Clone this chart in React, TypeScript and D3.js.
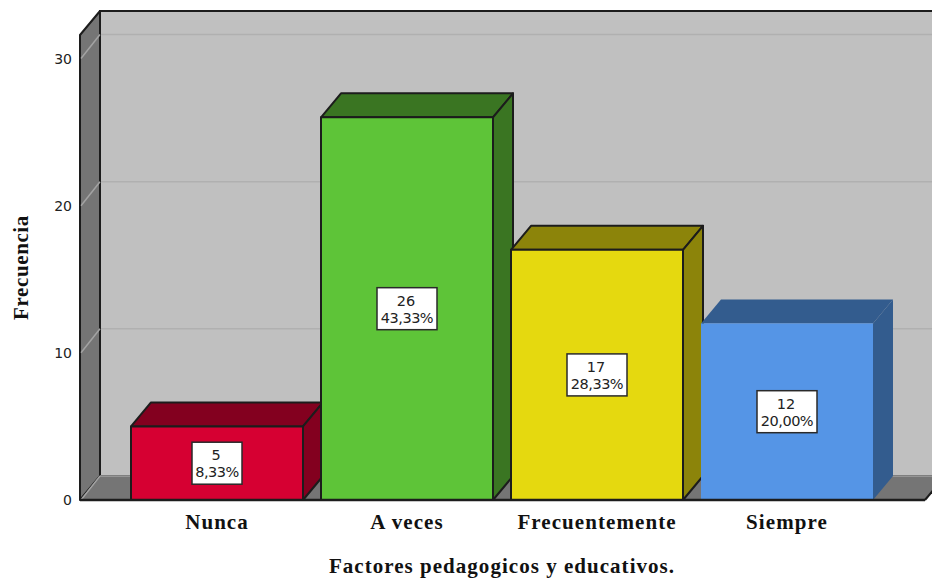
import React from "react";
import * as d3 from "d3";

const categories = ["Nunca", "A veces", "Frecuentemente", "Siempre"];
const counts = [5, 26, 17, 12];
const percents = ["8,33%", "43,33%", "28,33%", "20,00%"];
const frontColors = ["#d60032", "#5ec438", "#e5d90f", "#5595e6"];
const sideColors = ["#83001f", "#3a7522", "#8c840a", "#335c8e"];
const edgeColors = ["#1c1c1c", "#1c1c1c", "#1c1c1c", "none"];
const yTicks = [0, 10, 20, 30];
const boxWidths = [50, 60, 60, 60];

const W = 932;
const H = 578;
const DX = 20;
const DY = -24;
const INK = "#1c1c1c";

const y = d3.scaleLinear().domain([0, 30]).range([500, 58.5]);
const x = d3.scaleBand().domain(categories).range([131, 873]).paddingInner(18 / 190).paddingOuter(0);

const poly = (pts: [number, number][]) => d3.line()(pts) + "Z";
const SERIF = "'Liberation Serif', serif";

export default function App() {
  const floorY = y(0);
  const ceilingY = 35;
  const leftX = 80;
  const rightX = 925;

  return (
    <svg width={W} height={H} viewBox={`0 0 ${W} ${H}`} style={{ position: "absolute", left: 0, top: 0, background: "#fff" }}>
      {/* Back wall */}
      <rect x={leftX + DX} y={ceilingY + DY} width={W - leftX - DX + 5} height={floorY - ceilingY} fill="#c0c0c0" stroke={INK} strokeWidth={2} />
      {/* Gridlines on the back wall */}
      {yTicks.slice(1).map((t) => (
        <line key={t} x1={leftX + DX} x2={W} y1={y(t) + DY} y2={y(t) + DY} stroke="#b0b0b0" strokeWidth={1.5} />
      ))}
      {/* Left wall with its gridline returns */}
      <path d={poly([[leftX, ceilingY], [leftX + DX, ceilingY + DY], [leftX + DX, floorY + DY], [leftX, floorY]])} fill="#757575" stroke={INK} strokeWidth={2} strokeLinejoin="round" />
      {yTicks.slice(1).map((t) => (
        <line key={t} x1={leftX + 1} y1={y(t)} x2={leftX + DX} y2={y(t) + DY} stroke="#a3a3a3" strokeWidth={1.5} />
      ))}
      {/* Floor */}
      <path d={poly([[leftX, floorY], [leftX + DX, floorY + DY], [rightX + DX, floorY + DY], [rightX, floorY]])} fill="#757575" />
      <line x1={leftX + DX} x2={W} y1={floorY + DY} y2={floorY + DY} stroke="#a0a0a0" strokeWidth={1.5} />
      <line x1={leftX + DX} y1={floorY + DY} x2={leftX + 1} y2={floorY} stroke="#a3a3a3" strokeWidth={1.5} />
      <line x1={rightX} y1={floorY} x2={rightX + DX} y2={floorY + DY} stroke={INK} strokeWidth={2} />

      {/* Value axis labels */}
      {yTicks.map((t) => (
        <text key={t} x={72} y={y(t) + 5} textAnchor="end" fontFamily="'DejaVu Sans', sans-serif" fontSize={14} fill="#222">
          {t}
        </text>
      ))}

      {/* Bars: top face, side face, front face */}
      {categories.map((c, i) => {
        const x0 = x(c)!;
        const x1 = x0 + x.bandwidth();
        const top = y(counts[i]);
        return (
          <g key={c} stroke={edgeColors[i]} strokeWidth={2} strokeLinejoin="round">
            <path d={poly([[x0, top], [x0 + DX, top + DY], [x1 + DX, top + DY], [x1, top]])} fill={sideColors[i]} />
            <path d={poly([[x1, top], [x1 + DX, top + DY], [x1 + DX, floorY + DY], [x1, floorY]])} fill={sideColors[i]} />
            <rect x={x0} y={top} width={x.bandwidth()} height={floorY - top} fill={frontColors[i]} />
          </g>
        );
      })}
      <line x1={leftX} x2={rightX} y1={floorY} y2={floorY} stroke={INK} strokeWidth={2.5} />

      {/* Count and percentage boxes */}
      {categories.map((c, i) => {
        const cx = x(c)! + x.bandwidth() / 2;
        const cy = (y(counts[i]) + floorY) / 2;
        const bw = boxWidths[i];
        return (
          <g key={c} fontFamily="'DejaVu Sans', sans-serif" fontSize={14.5} fill="#222" textAnchor="middle">
            <rect x={cx - bw / 2} y={cy - 21} width={bw} height={42} fill="#fff" stroke="#2a2a2a" strokeWidth={1.5} />
            <text x={cx - 1} y={cy - 3}>{counts[i]}</text>
            <text x={cx} y={cy + 14} letterSpacing={-0.5}>{percents[i]}</text>
          </g>
        );
      })}

      {/* Category labels and axis titles */}
      {categories.map((c) => (
        <text key={c} x={x(c)! + x.bandwidth() / 2} y={529} textAnchor="middle" fontFamily={SERIF} fontWeight="bold" fontSize={21} letterSpacing={1.07} fill="#111">
          {c}
        </text>
      ))}
      <text x={502} y={573} textAnchor="middle" fontFamily={SERIF} fontWeight="bold" fontSize={21} letterSpacing={1.03} fill="#111">
        Factores pedagogicos y educativos.
      </text>
      <text transform="translate(28,267.5) rotate(-90)" textAnchor="middle" fontFamily={SERIF} fontWeight="bold" fontSize={21} letterSpacing={0.6} fill="#111">
        Frecuencia
      </text>
    </svg>
  );
}
